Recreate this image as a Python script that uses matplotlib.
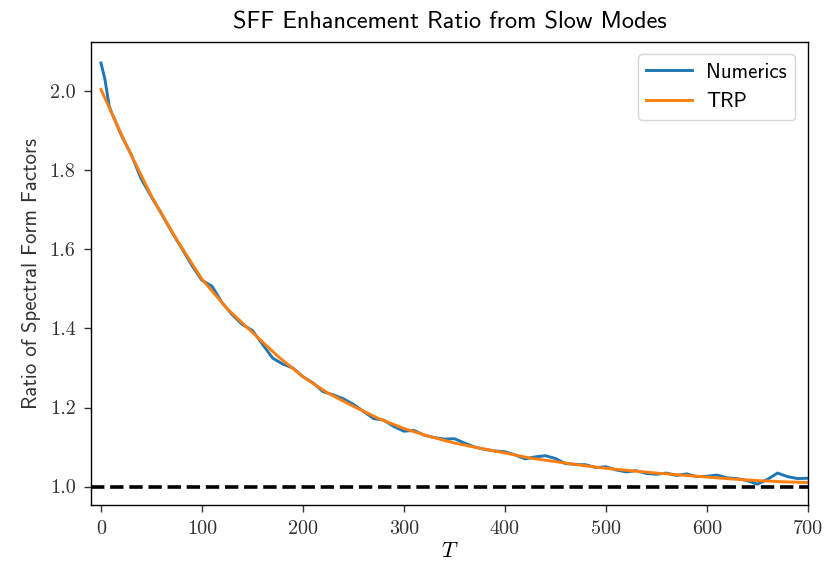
import numpy as np
import matplotlib
matplotlib.use("Agg")
import matplotlib.pyplot as plt

# Numerics
t_num = [0, 4, 8, 10, 20, 30, 40, 50, 60, 70, 80, 90, 100, 110, 120, 130, 140,
         150, 160, 170, 180, 190, 200, 210, 220, 230, 240, 250, 260, 270, 280,
         290, 300, 310, 320, 330, 340, 350, 360, 370, 380, 390, 400, 410, 420,
         430, 440, 450, 460, 470, 480, 490, 500, 510, 520, 530, 540, 550, 560,
         570, 580, 590, 600, 610, 620, 630, 640, 650, 660, 670, 680, 690, 700]
numerics = [2.072, 2.03, 1.965, 1.95, 1.89, 1.84, 1.778, 1.733, 1.69, 1.645,
            1.603, 1.56, 1.522, 1.507, 1.465, 1.435, 1.41, 1.395, 1.36, 1.325,
            1.31, 1.30, 1.278, 1.262, 1.24, 1.232, 1.222, 1.208, 1.19, 1.172,
            1.168, 1.152, 1.14, 1.142, 1.13, 1.124, 1.12, 1.121, 1.11, 1.10,
            1.094, 1.09, 1.088, 1.08, 1.07, 1.075, 1.078, 1.071, 1.058, 1.056,
            1.055, 1.048, 1.05, 1.042, 1.037, 1.04, 1.033, 1.031, 1.034, 1.028,
            1.032, 1.025, 1.026, 1.029, 1.022, 1.02, 1.015, 1.006, 1.018, 1.034,
            1.025, 1.02, 1.021]

# TRP prediction
t_trp = [0, 25, 50, 75, 100, 125, 150, 175, 200, 225, 250, 275, 300, 325, 350,
         375, 400, 425, 450, 475, 500, 525, 550, 575, 600, 625, 650, 675, 700]
trp = [2.005, 1.865, 1.735, 1.625, 1.525, 1.45, 1.39, 1.33, 1.278, 1.236,
       1.203, 1.172, 1.147, 1.127, 1.11, 1.097, 1.085, 1.072, 1.063, 1.054,
       1.046, 1.04, 1.034, 1.029, 1.024, 1.019, 1.015, 1.012, 1.01]

baseline = 1.0

plt.rcParams["mathtext.fontset"] = "cm"
plt.rcParams["axes.linewidth"] = 1.0

fig = plt.figure(figsize=(8.26, 5.67), dpi=100)
ax = fig.add_axes([0.110, 0.109, 0.868, 0.817])

ax.plot(t_num, numerics, color="#1f77b4", lw=2.1, label="Numerics")
ax.plot(t_trp, trp, color="#ff7f0e", lw=2.1, label="TRP")
ax.axhline(baseline, color="black", ls="--", lw=2.6)

ax.set_xlim(-10, 700)
ax.set_xticks(np.arange(0, 701, 100))
ax.set_yticks([1.0, 1.2, 1.4, 1.6, 1.8, 2.0])
ax.set_yticklabels(["1.0", "1.2", "1.4", "1.6", "1.8", "2.0"])
for lab in ax.get_xticklabels() + ax.get_yticklabels():
    lab.set_fontfamily("cmr10")
    lab.set_fontsize(14.5)
    lab.set_color("#333333")
ax.tick_params(length=5, width=1.0, color="#333333", pad=6)

ax.set_title("SFF Enhancement Ratio from Slow Modes", family="cmss10",
             fontsize=17.5, pad=10)
ax.set_ylabel("Ratio of Spectral Form Factors", family="cmss10", fontsize=15,
              color="#333333", labelpad=6)
ax.set_xlabel("$T$", fontsize=16, labelpad=2)

ax.legend(loc="upper right", prop={"family": "cmss10", "size": 15},
          handlelength=2.2, handletextpad=0.7, borderpad=0.4,
          borderaxespad=0.6)

fig.savefig("out.png", dpi=100)
